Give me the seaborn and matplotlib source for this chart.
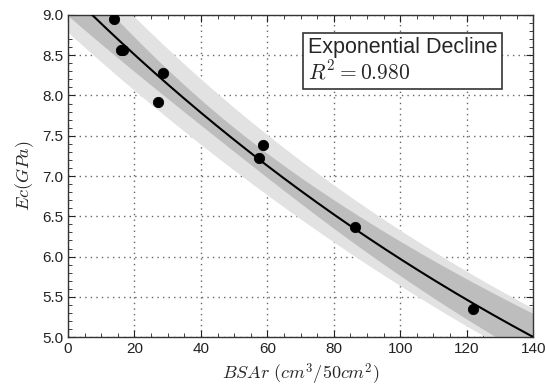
import numpy as np
import pandas as pd
import seaborn as sns
import matplotlib.pyplot as plt
from matplotlib.ticker import MultipleLocator

bsar = [13.9, 16.0, 16.7, 27.2, 28.5, 57.4, 58.7, 86.4, 122.0]
ec = [8.95, 8.56, 8.57, 7.92, 8.28, 7.22, 7.39, 6.37, 5.35]
r2_label = 'Exponential Decline\n$R^2 = 0.980$'
t_conf = 2.65  # band multipliers tuned to the picture
t_pred = 2.2

df = pd.DataFrame({'bsar': bsar, 'ec': ec})

# exponential decline fit: log(Ec) = c0 + c1 * BSAr
x = df.bsar.values
ly = np.log(df.ec.values)
c1, c0 = np.polyfit(x, ly, 1)
resid = ly - (c0 + c1 * x)
n = len(x)
s = np.sqrt((resid ** 2).sum() / (n - 2))
sxx = ((x - x.mean()) ** 2).sum()

xs = np.linspace(0, 140, 300)
mu = c0 + c1 * xs
se_fit = s * np.sqrt(1 / n + (xs - x.mean()) ** 2 / sxx)
se_pred = np.sqrt(s ** 2 + se_fit ** 2)
fit = pd.DataFrame({'bsar': xs, 'ec': np.exp(mu)})

sns.set_style('ticks')
plt.rcParams['mathtext.fontset'] = 'cm'
plt.rcParams['font.family'] = ['Liberation Sans', 'DejaVu Sans']

fig = plt.figure(figsize=(5.46, 3.92), dpi=100)
ax = fig.add_axes([0.1245, 0.14, 0.852, 0.822])

ax.fill_between(xs, np.exp(mu - t_pred * se_pred), np.exp(mu + t_pred * se_pred),
                color='#e2e2e2', lw=0, zorder=1)
ax.fill_between(xs, np.exp(mu - t_conf * se_fit), np.exp(mu + t_conf * se_fit),
                color='#bdbdbd', lw=0, zorder=2)
sns.lineplot(data=fit, x='bsar', y='ec', color='black', lw=1.5, ax=ax, zorder=3)
sns.scatterplot(data=df, x='bsar', y='ec', color='black', s=55, edgecolor='black',
                ax=ax, zorder=4)

ax.set_xlim(0, 140)
ax.set_ylim(5.0, 9.0)
ax.xaxis.set_major_locator(MultipleLocator(20))
ax.xaxis.set_minor_locator(MultipleLocator(5))
ax.yaxis.set_major_locator(MultipleLocator(0.5))
ax.yaxis.set_minor_locator(MultipleLocator(0.1))
ax.tick_params(which='both', direction='in', top=True, right=True, labelsize=11,
               colors='#222222')
ax.tick_params(which='major', length=5)
ax.tick_params(which='minor', length=3)
ax.grid(True, which='major', ls=(0, (1, 3)), color='#666666', lw=1.0)
for sp in ax.spines.values():
    sp.set_color('#333333')
    sp.set_linewidth(1.0)

ax.set_xlabel('$BSAr\\ (cm^3/50cm^2)$', fontsize=13)
ax.set_ylabel('$Ec (GPa)$', fontsize=13)

ax.text(0.515, 0.93, r2_label, transform=ax.transAxes, fontsize=15.5,
        va='top', ha='left', linespacing=1.1, zorder=5,
        bbox=dict(boxstyle='square,pad=0.22', fc='white', ec='#333333', lw=1.2))

fig.savefig('out.png', dpi=100)
